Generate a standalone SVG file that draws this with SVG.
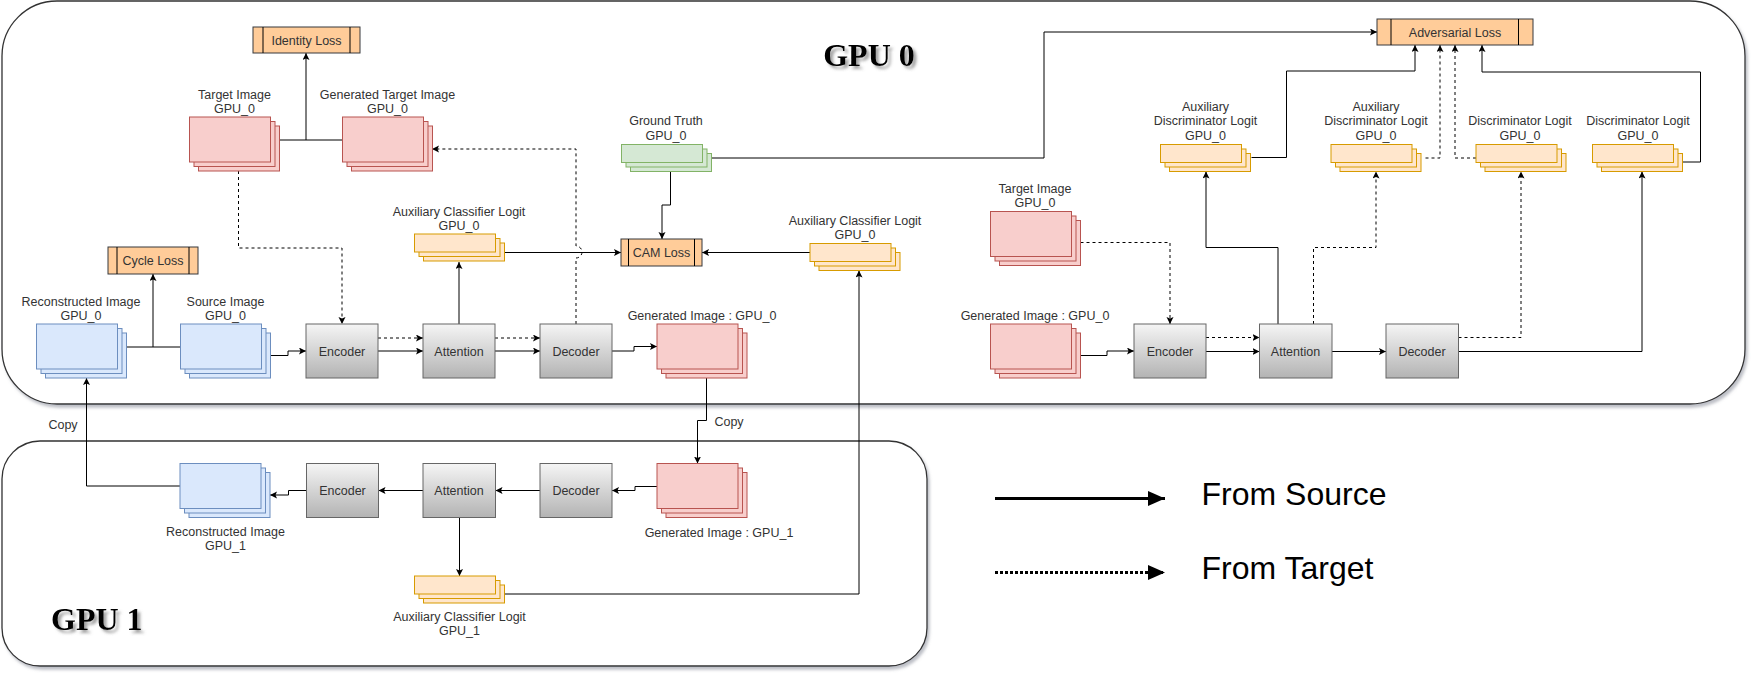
<svg xmlns="http://www.w3.org/2000/svg" xmlns:xlink="http://www.w3.org/1999/xlink" width="1757" height="690" viewBox="0 0 1757 690">
<style>
.lbl{font-family:"Liberation Sans",Arial,sans-serif;font-size:12.5px;fill:#333;text-anchor:middle}
.btxt{font-family:"Liberation Sans",Arial,sans-serif;font-size:12.5px;fill:#333;text-anchor:middle}
.title{font-family:"Liberation Serif","Times New Roman",serif;font-size:32px;font-weight:bold;fill:#000}
.leg{font-family:"Liberation Sans",Arial,sans-serif;font-size:32px;fill:#000}
.cont{fill:#fff;stroke:#333;stroke-width:1.3}
.gbox{fill:url(#gray);stroke:#666;stroke-width:1}
.loss{fill:#ffcc99;stroke:#36393d;stroke-width:1}
.edge{fill:none;stroke:#000;stroke-width:1}
.dash{stroke-dasharray:3 3}
.arr{marker-end:url(#ah)}
.red{fill:#f8cecc;stroke:#b85450;stroke-width:1}
.blue{fill:#dae8fc;stroke:#6c8ebf;stroke-width:1}
.org{fill:#ffe6cc;stroke:#d79b00;stroke-width:1}
.grn{fill:#d5e8d4;stroke:#82b366;stroke-width:1}
</style>
<defs>
<linearGradient id="gray" x1="0" y1="0" x2="0" y2="1">
<stop offset="0" stop-color="#f5f5f5"/>
<stop offset="1" stop-color="#b3b3b3"/>
</linearGradient>
<filter id="sh" x="-5%" y="-5%" width="110%" height="115%">
<feDropShadow dx="2" dy="3" stdDeviation="1.5" flood-color="#7a7f8c" flood-opacity="0.5"/>
</filter>
<filter id="tsh" x="-10%" y="-20%" width="130%" height="150%">
<feDropShadow dx="3" dy="3" stdDeviation="1.5" flood-color="#666" flood-opacity="0.6"/>
</filter>
<marker id="ah" markerUnits="userSpaceOnUse" markerWidth="8" markerHeight="8" refX="7" refY="3.5" orient="auto">
<path d="M0,0 L7,3.5 L0,7 L1.5,3.5 z" fill="#000"/>
</marker>
<marker id="ahL" markerUnits="userSpaceOnUse" markerWidth="18" markerHeight="16" refX="17" refY="7.5" orient="auto">
<path d="M0,0 L17,7.5 L0,15 z" fill="#000"/>
</marker>
<g id="stkImg">
<rect x="9" y="9" width="81" height="45"/>
<rect x="4.5" y="4.5" width="81" height="45"/>
<rect x="0" y="0" width="81" height="45"/>
</g>
<g id="stkLog">
<rect x="9" y="9" width="81" height="18"/>
<rect x="4.5" y="4.5" width="81" height="18"/>
<rect x="0" y="0" width="81" height="18"/>
</g>
</defs>

<rect width="1757" height="690" fill="#fff"/>

<!-- Containers -->
<g id="gpu0">
<rect class="cont" x="2" y="1" width="1743" height="403" rx="55" ry="55" filter="url(#sh)"/>
<text class="title" x="869" y="66" text-anchor="middle" filter="url(#tsh)">GPU 0</text>
</g>
<g id="gpu1">
<rect class="cont" x="2" y="441" width="925" height="225" rx="38" ry="38" filter="url(#sh)"/>
<text class="title" x="51" y="630" filter="url(#tsh)">GPU 1</text>
</g>

<!-- Connectors -->
<g id="connectors">
<!-- identity loss -->
<path class="edge" d="M279.5 140 H342.5"/>
<path class="edge arr" d="M306 140 V53"/>
<path class="edge dash arr" d="M238.5 171 V248 H342 V324"/>
<path class="edge dash arr" d="M576 324 V258 A6 6 0 0 0 576 246 V149 H432"/>
<!-- cycle loss -->
<path class="edge" d="M126.5 347 H180.5"/>
<path class="edge arr" d="M153 347 V274"/>
<!-- GPU0 generator left -->
<path class="edge arr" d="M270.5 355.5 H288 V351 H306"/>
<path class="edge arr" d="M378 351 H423"/>
<path class="edge dash arr" d="M378 338 H423"/>
<path class="edge arr" d="M495 351 H540"/>
<path class="edge dash arr" d="M495 338 H540"/>
<path class="edge arr" d="M459 324 V262"/>
<path class="edge arr" d="M504.5 252.5 H621"/>
<path class="edge arr" d="M670.5 171.5 V205 H662 V239"/>
<path class="edge arr" d="M810 252.5 H702"/>
<path class="edge arr" d="M711.5 158 H1044 V32 H1377"/>
<path class="edge arr" d="M612 351 H634 V346.5 H657"/>
<!-- copy to GPU1 -->
<path class="edge arr" d="M706.5 378 V420.5 H697.5 V463.5"/>
<!-- GPU1 -->
<path class="edge arr" d="M657 486.5 H635 V490.5 H612"/>
<path class="edge arr" d="M540 490.5 H495.5"/>
<path class="edge arr" d="M423 490.5 H378.5"/>
<path class="edge arr" d="M306.5 490.5 H288.5 V495 H270"/>
<path class="edge arr" d="M459.5 517.5 V576"/>
<path class="edge arr" d="M504.5 594 H859 V270.5"/>
<path class="edge arr" d="M180 486 H86.5 V378"/>
<!-- GPU0 right discriminator -->
<path class="edge dash arr" d="M1080.5 242.5 H1170 V324"/>
<path class="edge arr" d="M1080.5 355.5 H1107 V351 H1134"/>
<path class="edge arr" d="M1206 351.5 H1259.5"/>
<path class="edge dash arr" d="M1206 337.5 H1259.5"/>
<path class="edge arr" d="M1332 351.5 H1386"/>
<path class="edge arr" d="M1278 324 V247.5 H1206 V171.5"/>
<path class="edge dash arr" d="M1313.5 324 V247.5 H1376 V171.5"/>
<path class="edge dash arr" d="M1458.5 337.5 H1521 V171.5"/>
<path class="edge arr" d="M1458.5 351.5 H1642 V171.5"/>
<path class="edge arr" d="M1251.5 157.5 H1286.5 V71 H1415 V45"/>
<path class="edge dash arr" d="M1425.5 158 H1440 V45"/>
<path class="edge dash arr" d="M1476 158 H1455 V45"/>
<path class="edge arr" d="M1682.5 162 H1700.5 V72 H1482 V45"/>
<!-- copy labels -->
<text class="lbl" x="729" y="425.5">Copy</text>
<text class="lbl" x="63" y="429">Copy</text>
</g>

<!-- Loss nodes -->
<g id="identity-loss">
<rect class="loss" x="253" y="27" width="107" height="26"/>
<path class="edge" d="M263 27 V53 M350 27 V53" stroke="#36393d"/>
<text class="btxt" x="306.5" y="44.5">Identity Loss</text>
</g>
<g id="cycle-loss">
<rect class="loss" x="108" y="247" width="90" height="27"/>
<path class="edge" d="M117 247 V274 M189 247 V274" stroke="#36393d"/>
<text class="btxt" x="153" y="265">Cycle Loss</text>
</g>
<g id="cam-loss">
<rect class="loss" x="621" y="239" width="81" height="27"/>
<path class="edge" d="M628.5 239 V266 M694.5 239 V266" stroke="#36393d"/>
<text class="btxt" x="661.5" y="257">CAM Loss</text>
</g>
<g id="adv-loss">
<rect class="loss" x="1377" y="19" width="156" height="26"/>
<path class="edge" d="M1391 19 V45 M1518.5 19 V45" stroke="#36393d"/>
<text class="btxt" x="1455" y="36.5">Adversarial Loss</text>
</g>

<!-- Image stacks -->
<g id="target-image-l">
<use xlink:href="#stkImg" href="#stkImg" class="red" x="189.5" y="117"/>
<text class="lbl" x="234.5" y="98.5">Target Image</text>
<text class="lbl" x="234.5" y="112.5">GPU_0</text>
</g>
<g id="gen-target-image">
<use xlink:href="#stkImg" href="#stkImg" class="red" x="342.5" y="117"/>
<text class="lbl" x="387.5" y="98.5">Generated Target Image</text>
<text class="lbl" x="387.5" y="112.5">GPU_0</text>
</g>
<g id="recon-image-0">
<use xlink:href="#stkImg" href="#stkImg" class="blue" x="36.5" y="324"/>
<text class="lbl" x="81" y="305.5">Reconstructed Image</text>
<text class="lbl" x="81" y="320">GPU_0</text>
</g>
<g id="source-image">
<use xlink:href="#stkImg" href="#stkImg" class="blue" x="180.5" y="324"/>
<text class="lbl" x="225.5" y="305.5">Source Image</text>
<text class="lbl" x="225.5" y="320">GPU_0</text>
</g>
<g id="gen-image-0">
<use xlink:href="#stkImg" href="#stkImg" class="red" x="657" y="324"/>
<text class="lbl" x="702" y="319.5">Generated Image : GPU_0</text>
</g>
<g id="target-image-r">
<use xlink:href="#stkImg" href="#stkImg" class="red" x="990.5" y="211.5"/>
<text class="lbl" x="1035" y="192.5">Target Image</text>
<text class="lbl" x="1035" y="207">GPU_0</text>
</g>
<g id="gen-image-0-r">
<use xlink:href="#stkImg" href="#stkImg" class="red" x="990.5" y="324"/>
<text class="lbl" x="1035" y="320">Generated Image : GPU_0</text>
</g>
<g id="recon-image-1">
<use xlink:href="#stkImg" href="#stkImg" class="blue" x="180" y="463.5"/>
<text class="lbl" x="225.5" y="535.5">Reconstructed Image</text>
<text class="lbl" x="225.5" y="550">GPU_1</text>
</g>
<g id="gen-image-1">
<use xlink:href="#stkImg" href="#stkImg" class="red" x="657" y="463.5"/>
<text class="lbl" x="719" y="536.5">Generated Image : GPU_1</text>
</g>

<!-- Logit stacks -->
<g id="ground-truth">
<use xlink:href="#stkLog" href="#stkLog" class="grn" x="621.5" y="144.5"/>
<text class="lbl" x="666" y="125">Ground Truth</text>
<text class="lbl" x="666" y="139.5">GPU_0</text>
</g>
<g id="aux-cls-logit-0-l">
<use xlink:href="#stkLog" href="#stkLog" class="org" x="414.5" y="234"/>
<text class="lbl" x="459" y="215.5">Auxiliary Classifier Logit</text>
<text class="lbl" x="459" y="230">GPU_0</text>
</g>
<g id="aux-cls-logit-0-r">
<use xlink:href="#stkLog" href="#stkLog" class="org" x="810" y="243.5"/>
<text class="lbl" x="855" y="224.5">Auxiliary Classifier Logit</text>
<text class="lbl" x="855" y="238.5">GPU_0</text>
</g>
<g id="aux-disc-logit-1">
<use xlink:href="#stkLog" href="#stkLog" class="org" x="1160.5" y="144.5"/>
<text class="lbl" x="1205.5" y="111">Auxiliary</text>
<text class="lbl" x="1205.5" y="125">Discriminator Logit</text>
<text class="lbl" x="1205.5" y="139.5">GPU_0</text>
</g>
<g id="aux-disc-logit-2">
<use xlink:href="#stkLog" href="#stkLog" class="org" x="1331" y="144.5"/>
<text class="lbl" x="1376" y="111">Auxiliary</text>
<text class="lbl" x="1376" y="125">Discriminator Logit</text>
<text class="lbl" x="1376" y="139.5">GPU_0</text>
</g>
<g id="disc-logit-1">
<use xlink:href="#stkLog" href="#stkLog" class="org" x="1476" y="144.5"/>
<text class="lbl" x="1520" y="125">Discriminator Logit</text>
<text class="lbl" x="1520" y="139.5">GPU_0</text>
</g>
<g id="disc-logit-2">
<use xlink:href="#stkLog" href="#stkLog" class="org" x="1592.5" y="144.5"/>
<text class="lbl" x="1638" y="125">Discriminator Logit</text>
<text class="lbl" x="1638" y="139.5">GPU_0</text>
</g>
<g id="aux-cls-logit-1">
<use xlink:href="#stkLog" href="#stkLog" class="org" x="414.5" y="576"/>
<text class="lbl" x="459.5" y="621">Auxiliary Classifier Logit</text>
<text class="lbl" x="459.5" y="635">GPU_1</text>
</g>

<!-- Gray boxes -->
<g id="encoder-0"><rect class="gbox" x="306" y="324" width="72" height="54"/><text class="btxt" x="342" y="355.5">Encoder</text></g>
<g id="attention-0"><rect class="gbox" x="423" y="324" width="72" height="54"/><text class="btxt" x="459" y="355.5">Attention</text></g>
<g id="decoder-0"><rect class="gbox" x="540" y="324" width="72" height="54"/><text class="btxt" x="576" y="355.5">Decoder</text></g>
<g id="encoder-0-r"><rect class="gbox" x="1134" y="324" width="72" height="54"/><text class="btxt" x="1170" y="355.5">Encoder</text></g>
<g id="attention-0-r"><rect class="gbox" x="1259.5" y="324" width="72.5" height="54"/><text class="btxt" x="1295.5" y="355.5">Attention</text></g>
<g id="decoder-0-r"><rect class="gbox" x="1386" y="324" width="72.5" height="54"/><text class="btxt" x="1422" y="355.5">Decoder</text></g>
<g id="encoder-1"><rect class="gbox" x="306.5" y="463.5" width="72" height="54"/><text class="btxt" x="342.5" y="495">Encoder</text></g>
<g id="attention-1"><rect class="gbox" x="423" y="463.5" width="72.5" height="54"/><text class="btxt" x="459" y="495">Attention</text></g>
<g id="decoder-1"><rect class="gbox" x="540" y="463.5" width="72" height="54"/><text class="btxt" x="576" y="495">Decoder</text></g>

<!-- Legend -->
<g id="legend">
<path d="M995 498.5 H1165" stroke="#000" stroke-width="3" fill="none" marker-end="url(#ahL)"/>
<text class="leg" x="1201.5" y="505">From Source</text>
<path d="M995 572.5 H1165" stroke="#000" stroke-width="3" stroke-dasharray="3 2" fill="none" marker-end="url(#ahL)"/>
<text class="leg" x="1201.5" y="578.5">From Target</text>
</g>
</svg>
